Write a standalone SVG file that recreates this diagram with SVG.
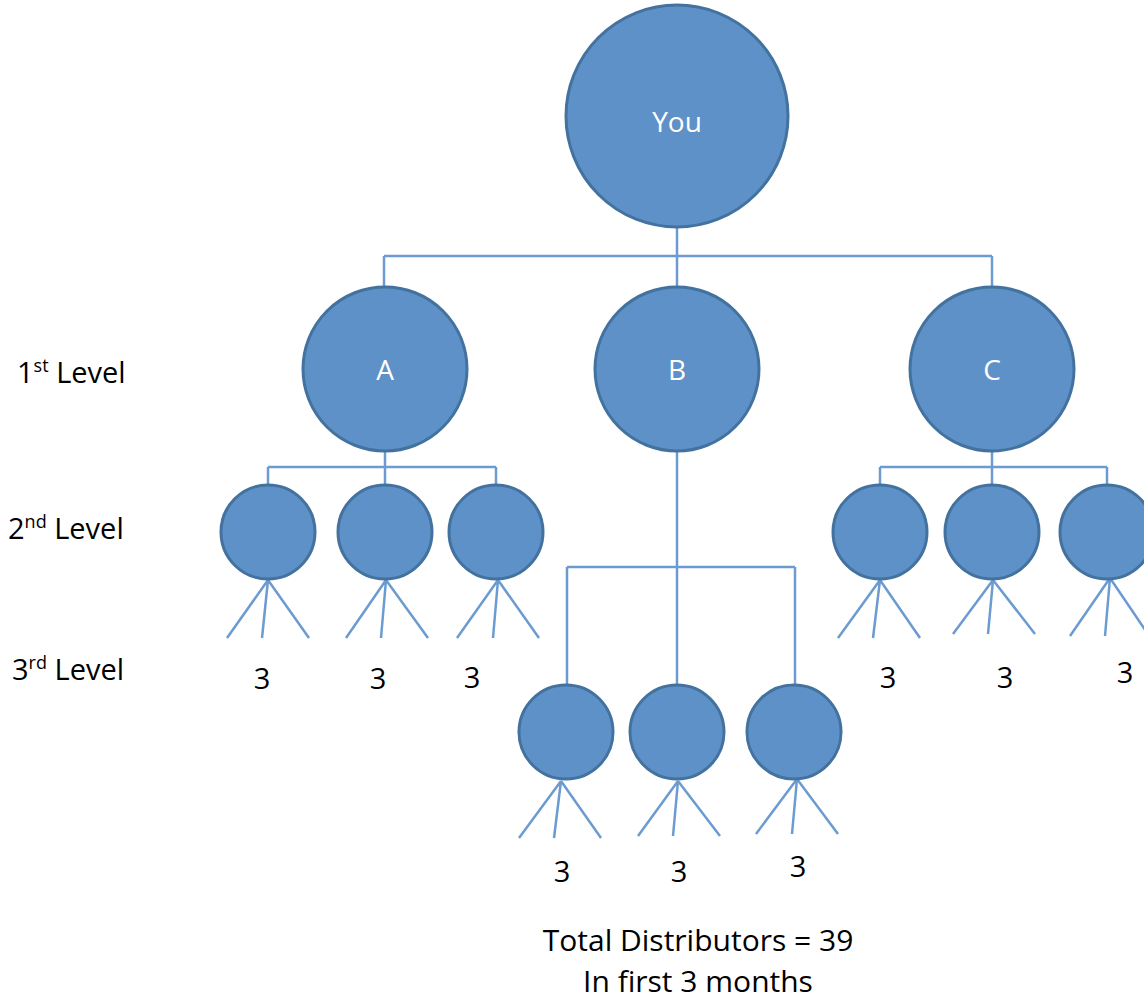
<svg xmlns="http://www.w3.org/2000/svg" width="1144" height="1000" viewBox="0 0 1144 1000">
<style>
.n{fill:#5D91C8;stroke:#43729F;stroke-width:3}
.c{fill:none;stroke:#6B9BD1;stroke-width:2.5}
.w{fill:#FFFFFF;font-family:"Open Sans","Liberation Sans",sans-serif;font-size:28px;text-anchor:middle}
.t{fill:#000000;font-family:"Open Sans","Liberation Sans",sans-serif;font-size:29px}
.b{font-size:30px}
.m{text-anchor:middle}
.s{font-size:18px}
</style>
<rect width="1144" height="1000" fill="#FFFFFF"/>
<g id="connectors">
<path class="c" d="M677,228V256M384,256H992M384,256V287M677,256V287M992,256V287"/>
<path class="c" d="M385,452V467M268,467H496M268,467V484M385,467V484M496,467V484"/>
<path class="c" d="M992,452V467M880,467H1107M880,467V484M992,467V484M1107,467V484"/>
<path class="c" d="M677,452V567M567,567H795M567,567V684M677,567V684M795,567V684"/>
<path class="c" d="M268,580L227,638M268,580L262,638M268,580L309,638"/>
<path class="c" d="M386,580L346,638M386,580L381,638M386,580L428,638"/>
<path class="c" d="M498,580L457,638M498,580L493,638M498,580L539,638"/>
<path class="c" d="M880,580L838,638M880,580L873,638M880,580L920,638"/>
<path class="c" d="M993,580L953,634M993,580L988,634M993,580L1035,634"/>
<path class="c" d="M1110,578L1070,636M1110,578L1105,636M1110,578L1152,640"/>
<path class="c" d="M561,781L519,838M561,781L554,838M561,781L601,838"/>
<path class="c" d="M678,781L638,836M678,781L673,836M678,781L720,836"/>
<path class="c" d="M797,779L756,834M797,779L792,834M797,779L838,834"/>
</g>
<g id="node-you"><circle class="n" cx="677" cy="116" r="111"/><text class="w" x="677" y="132">You</text></g>
<g id="node-a"><circle class="n" cx="385" cy="369" r="82"/><text class="w" x="385" y="380">A</text></g>
<g id="node-b"><circle class="n" cx="677" cy="369" r="82"/><text class="w" x="677" y="380">B</text></g>
<g id="node-c"><circle class="n" cx="992" cy="369" r="82"/><text class="w" x="992" y="380">C</text></g>
<g id="node-a1"><circle class="n" cx="268" cy="532" r="47"/></g>
<g id="node-a2"><circle class="n" cx="385" cy="532" r="47"/></g>
<g id="node-a3"><circle class="n" cx="496" cy="532" r="47"/></g>
<g id="node-c1"><circle class="n" cx="880" cy="532" r="47"/></g>
<g id="node-c2"><circle class="n" cx="992" cy="532" r="47"/></g>
<g id="node-c3"><circle class="n" cx="1107" cy="532" r="47"/></g>
<g id="node-b1"><circle class="n" cx="566" cy="732" r="47"/></g>
<g id="node-b2"><circle class="n" cx="677" cy="732" r="47"/></g>
<g id="node-b3"><circle class="n" cx="794" cy="732" r="47"/></g>
<g id="labels">
<text class="t" x="17" y="383">1<tspan class="s" dy="-11">st</tspan><tspan dy="11"> Level</tspan></text>
<text class="t" x="8" y="539">2<tspan class="s" dy="-11">nd</tspan><tspan dy="11"> Level</tspan></text>
<text class="t" x="12" y="680">3<tspan class="s" dy="-11">rd</tspan><tspan dy="11"> Level</tspan></text>
<text class="t m" x="262" y="689">3</text>
<text class="t m" x="378" y="689">3</text>
<text class="t m" x="472" y="688">3</text>
<text class="t m" x="888" y="688">3</text>
<text class="t m" x="1005" y="688">3</text>
<text class="t m" x="1125" y="683">3</text>
<text class="t m" x="562" y="882">3</text>
<text class="t m" x="679" y="882">3</text>
<text class="t m" x="798" y="877">3</text>
<text class="t b m" x="698" y="951">Total Distributors = 39</text>
<text class="t b m" x="698" y="992">In first 3 months</text>
</g>
</svg>
